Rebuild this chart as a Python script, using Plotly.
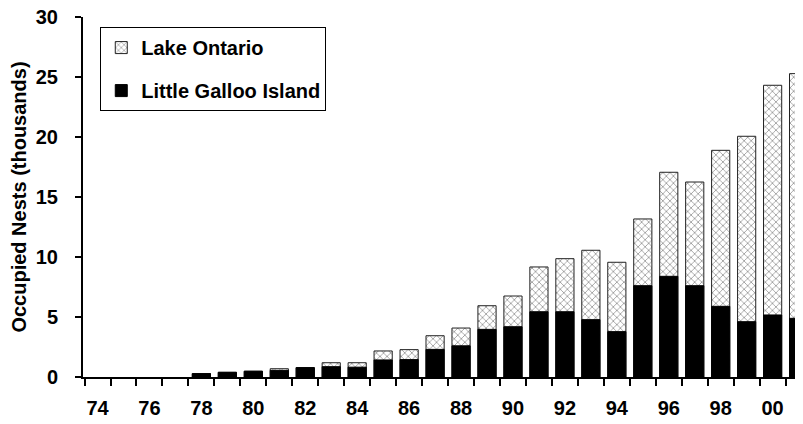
import plotly.graph_objects as go

years = list(range(1974, 2002))
lake_ontario = [0, 0, 0, 0, 0.28, 0.39, 0.48, 0.69, 0.78, 1.19, 1.19, 2.17, 2.28, 3.44, 4.08,
                5.94, 6.75, 9.17, 9.86, 10.56, 9.56, 13.17, 17.06, 16.25, 18.89, 20.06, 24.31, 25.28]
little_galloo = [0, 0, 0, 0, 0.28, 0.39, 0.48, 0.55, 0.78, 0.86, 0.82, 1.42, 1.45, 2.3, 2.6,
                 3.97, 4.19, 5.44, 5.44, 4.78, 3.78, 7.61, 8.39, 7.61, 5.89, 4.61, 5.17, 4.89]
tick_years = list(range(1974, 2002, 2))
tick_labels = [f"{y % 100:02d}" for y in tick_years]
y_ticks = [0, 5, 10, 15, 20, 25, 30]

font_family = "Liberation Sans, Arial, sans-serif"


def nz(vals):
    return [v if v > 0 else None for v in vals]


fig = go.Figure()
fig.add_trace(go.Bar(
    x=years, y=nz(lake_ontario), name="<b>Lake Ontario</b>", width=0.7,
    marker=dict(color="white", line=dict(color="#222", width=1),
                pattern=dict(shape="x", fgcolor="#333", bgcolor="white", size=5, solidity=0.3)),
    legendgroup="a",
))
fig.add_trace(go.Bar(
    x=years, y=nz(little_galloo), name="<b>Little Galloo Island</b>", width=0.7,
    marker=dict(color="black", line=dict(color="black", width=1)),
    legendgroup="b",
))

fig.update_layout(
    width=795, height=416,
    margin=dict(l=75, r=0, t=9, b=47),
    barmode="overlay",
    plot_bgcolor="white", paper_bgcolor="white",
    font=dict(family=font_family, size=20, color="black"),
    showlegend=True,
    legend=dict(x=0.024, y=0.972, xanchor="left", yanchor="top",
                bordercolor="black", borderwidth=1, bgcolor="white",
                font=dict(size=20), tracegroupgap=14,
                itemwidth=30),
)
fig.update_xaxes(
    range=[1973.44, 2001.17], automargin=False,
    tickmode="array", tickvals=tick_years, ticktext=[f"<b>{t}</b>" for t in tick_labels],
    ticks="", showline=True, linecolor="black", linewidth=2,
    showgrid=False, zeroline=False, ticklabelstandoff=12, ticklabeloverflow="allow",
    tickfont=dict(size=20),
    minor=dict(tickmode="array", tickvals=[y + 0.5 for y in range(1973, 2002)],
               ticks="outside", ticklen=7, tickwidth=2, tickcolor="black", showgrid=False),
)
fig.update_yaxes(
    range=[0, 30], automargin=False, tickmode="array", tickvals=y_ticks,
    ticktext=[f"<b>{t}</b>" for t in y_ticks],
    ticks="outside", ticklen=6, tickwidth=2, tickcolor="black",
    showline=True, linecolor="black", linewidth=2,
    showgrid=False, zeroline=False, ticklabelstandoff=13, ticklabeloverflow="allow",
    tickfont=dict(size=20),
    title=dict(text="<b>Occupied Nests (thousands)</b>", font=dict(size=20), standoff=10),
)

fig.write_html("out.html")
